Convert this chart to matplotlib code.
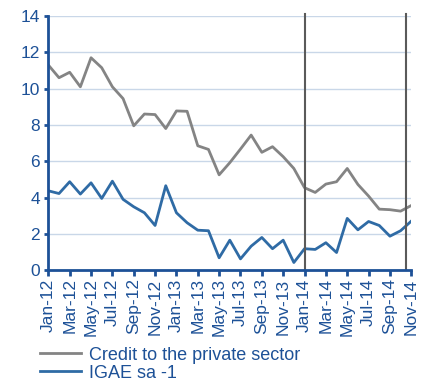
import matplotlib
matplotlib.use("Agg")
import matplotlib.pyplot as plt
import numpy as np

plt.rcParams['font.family'] = ['Liberation Sans', 'DejaVu Sans']

# Monatsdaten Jan-12 .. Nov-14
months = ["Jan-12", "Feb-12", "Mar-12", "Apr-12", "May-12", "Jun-12", "Jul-12", "Aug-12",
          "Sep-12", "Oct-12", "Nov-12", "Dec-12", "Jan-13", "Feb-13", "Mar-13", "Apr-13",
          "May-13", "Jun-13", "Jul-13", "Aug-13", "Sep-13", "Oct-13", "Nov-13", "Dec-13",
          "Jan-14", "Feb-14", "Mar-14", "Apr-14", "May-14", "Jun-14", "Jul-14", "Aug-14",
          "Sep-14", "Oct-14", "Nov-14"]

credit = [11.3, 10.6, 10.9, 10.1, 11.7, 11.15, 10.1, 9.45, 7.95, 8.6, 8.57, 7.8,
          8.77, 8.75, 6.85, 6.65, 5.25, 5.92, 6.67, 7.44, 6.49, 6.8, 6.25, 5.6,
          4.54, 4.28, 4.74, 4.87, 5.6, 4.72, 4.08, 3.36, 3.33, 3.25, 3.56]

igae = [4.37, 4.22, 4.87, 4.19, 4.81, 3.95, 4.9, 3.9, 3.49, 3.16, 2.46, 4.65,
        3.16, 2.61, 2.2, 2.17, 0.68, 1.65, 0.62, 1.32, 1.8, 1.18, 1.65, 0.42,
        1.18, 1.14, 1.51, 0.97, 2.85, 2.22, 2.68, 2.46, 1.87, 2.17, 2.7]

# senkrechte Markierungen (Monatsindex)
vlines = [24, 33.5]

blue = '#1d5197'
x = np.arange(len(months))

fig = plt.figure(figsize=(4.24, 3.81), dpi=100)
ax = fig.add_axes([0.114, 0.291, 0.856, 0.667])

ax.set_axisbelow(True)
ax.yaxis.grid(True, color='#c9d7e8', linewidth=1.0)
ax.plot(x, credit, color='#848484', linewidth=2, label='Credit to the private sector')
ax.plot(x, igae, color='#2f6ba5', linewidth=2, label='IGAE sa -1')
for v in vlines:
    ax.plot([v, v], [0, 14.1], color='#5a5a5a', linewidth=1.5, clip_on=False)

ax.set_xlim(0, len(months) - 1)
ax.set_ylim(0, 14)
ax.set_yticks(np.arange(0, 15, 2))
ax.set_xticks(x[::2])
ax.set_xticklabels(months[::2], rotation=90)

for s in ['top', 'right']:
    ax.spines[s].set_visible(False)
for s in ['left', 'bottom']:
    ax.spines[s].set_color(blue)
    ax.spines[s].set_linewidth(2)
ax.tick_params(axis='both', colors=blue, labelsize=12.5, width=2, length=4, pad=2)
ax.tick_params(axis='y', length=3, pad=3)

fig.legend(loc='upper left', bbox_to_anchor=(0.094, 0.09), frameon=False,
           fontsize=13, handlelength=2.3, handletextpad=0.4, labelspacing=0.05,
           borderpad=0, borderaxespad=0, labelcolor=blue)

fig.savefig('out.png', dpi=100)
